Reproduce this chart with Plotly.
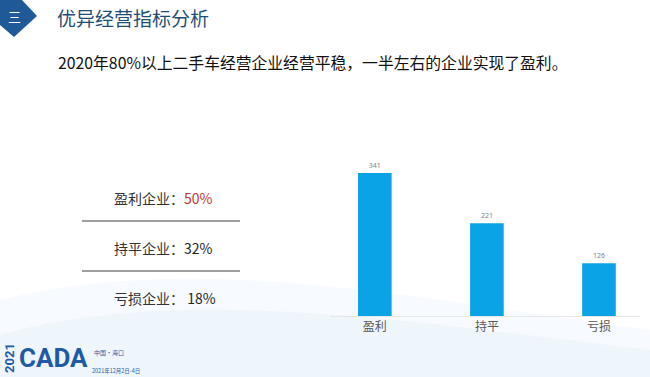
import plotly.graph_objects as go

categories = ["盈利", "持平", "亏损"]
values = [341, 221, 126]
share_labels = ["盈利企业：", "持平企业：", "亏损企业： "]
share_values = ["50%", "32%", "18%"]

W, H = 650, 377
L, R, T, B = 330, 10, 150, 61

def px(X):
    return (X - L) / (W - L - R)

def py(Y):
    return (H - B - Y) / (H - T - B)

fig = go.Figure()
fig.add_trace(go.Bar(
    x=[0, 1, 2], y=values, width=0.3,
    marker=dict(color="#0aa3e6", line=dict(width=0)),
    text=[str(v) for v in values], textposition="outside",
    textfont=dict(size=7, color="#7f7f7f", family="Noto Sans"),
    cliponaxis=False, hoverinfo="skip",
))

shapes = []
# background swooshes
shapes.append(dict(type="path", xref="paper", yref="paper",
    path=f"M {px(0)},{py(300)} C {px(200)},{py(250)} {px(420)},{py(300)} {px(650)},{py(330)} L {px(650)},{py(377)} L {px(0)},{py(377)} Z",
    fillcolor="rgba(210,230,248,0.18)", line=dict(width=0), layer="below"))
shapes.append(dict(type="path", xref="paper", yref="paper",
    path=f"M {px(0)},{py(335)} C {px(180)},{py(285)} {px(400)},{py(320)} {px(650)},{py(350)} L {px(650)},{py(377)} L {px(0)},{py(377)} Z",
    fillcolor="rgba(200,225,245,0.18)", line=dict(width=0), layer="below"))
# header icon
shapes.append(dict(type="path", xref="paper", yref="paper",
    path=f"M {px(0)},{py(0)} L {px(22)},{py(0)} L {px(37)},{py(16)} L {px(14)},{py(37)} L {px(0)},{py(25)} Z",
    fillcolor="#1f5a96", line=dict(width=0)))
# separator lines
for yy in [221, 271]:
    shapes.append(dict(type="line", xref="paper", yref="paper",
        x0=px(82), x1=px(240), y0=py(yy), y1=py(yy),
        line=dict(color="#404040", width=1)))

ann = []
def add(x, y, text, size, color, family="Noto Sans CJK SC", xanchor="center", **kw):
    ann.append(dict(xref="paper", yref="paper", x=px(x), y=py(y), text=text,
                    showarrow=False, xanchor=xanchor, yanchor="middle",
                    font=dict(size=size, color=color, family=family), **kw))

add(14, 16, "三", 13, "white")
add(55, 17, "优异经营指标分析", 19, "#1f4e79", xanchor="left")
add(56, 62, "2020年80%以上二手车经营企业经营平稳，一半左右的企业实现了盈利。", 15.8, "#111111", xanchor="left")
ys = [198, 248, 298]
colors = ["#c0392b", "#262626", "#262626"]
for lab, val, yy, c in zip(share_labels, share_values, ys, colors):
    add(112, yy, f"{lab}<span style='color:{c}'>{val}</span>", 14, "#333333", xanchor="left")
# logo
logo_font = "Roboto, Liberation Sans, sans-serif"
add(9, 358, "<b>2021</b>", 13, "#1f5aa6", family=logo_font, textangle=-90)
add(17, 358, "<b>CADA</b>", 26, "#1f5aa6", family=logo_font, xanchor="left")
add(92, 352, "中国·海口", 6, "#1f5aa6", xanchor="left")
add(90, 371, "2021年12月2日-4日", 5.5, "#1f5aa6", xanchor="left")

fig.update_layout(
    width=W, height=H, margin=dict(l=L, r=R, t=T, b=B),
    paper_bgcolor="white", plot_bgcolor="rgba(0,0,0,0)",
    showlegend=False, shapes=shapes, annotations=ann,
    xaxis=dict(range=[-0.40, 2.366], tickvals=[0, 1, 2], ticktext=categories,
               showgrid=False, zeroline=False, showline=True, linecolor="#e6e6e6",
               ticks="", tickfont=dict(size=12, color="#595959", family="Noto Sans CJK SC")),
    yaxis=dict(range=[0, 396], visible=False, showgrid=False, zeroline=False),
)

fig.write_html("out.html", config={"displayModeBar": False},
               post_script="document.body.style.margin='0px';")
